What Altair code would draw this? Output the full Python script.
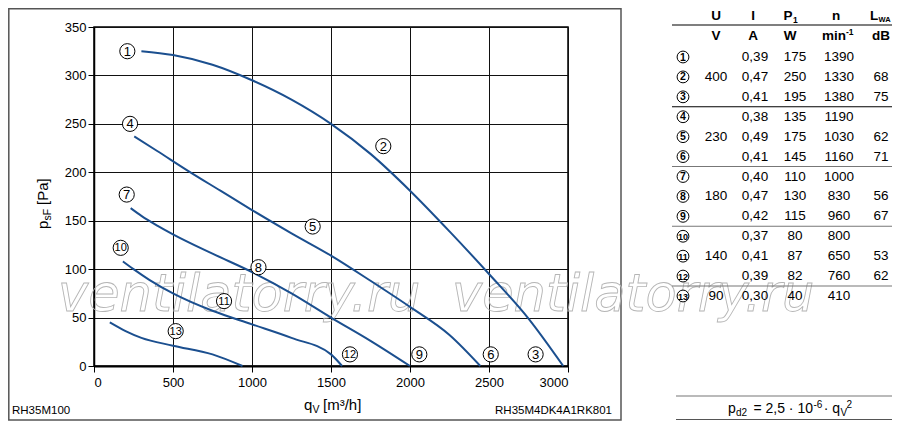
import altair as alt
import pandas as pd

FONT = "Liberation Sans"
BLUE = "#1b4f8f"
NB = "\u00a0"

# ---------------- curve data (q_V [m3/h], p_sF [Pa]) ----------------
q_400 = [300, 500, 750, 1000, 1250, 1500, 1750, 2000, 2250, 2500, 2750, 2970]
p_400 = [325, 321, 311, 295, 275, 250, 219, 181, 139, 95, 49, 0]
q_230 = [255, 400, 600, 800, 1000, 1250, 1500, 1750, 2000, 2250, 2445]
p_230 = [237, 222, 201, 181, 161, 137, 114, 88, 61, 32, 0]
q_180 = [232, 300, 400, 500, 750, 1000, 1250, 1500, 1750, 2000]
p_180 = [163, 155, 145, 136, 116, 97, 75, 50, 26, 0]
q_140 = [183, 250, 350, 500, 750, 1000, 1250, 1500, 1570]
p_140 = [108, 100, 89, 75, 57, 43, 29, 12, 0]
q_90 = [100, 200, 300, 500, 750, 940]
p_90 = [45, 36, 29, 21, 12, 0]

# curve label markers
lbl_id = [1, 2, 3, 4, 5, 6, 7, 8, 9, 10, 11, 12, 13]
lbl_q = [211, 1831, 2795, 228, 1384, 2511, 207, 1041, 2059, 169, 823, 1620, 517]
lbl_p = [325, 227, 12, 250, 144, 12, 177, 102, 12, 122, 67, 12, 36]

# axis ticks
x_ticks = [0, 500, 1000, 1500, 2000, 2500, 3000]
y_ticks = [0, 50, 100, 150, 200, 250, 300, 350]

# ---------------- table data ----------------
tbl_id = [1, 2, 3, 4, 5, 6, 7, 8, 9, 10, 11, 12, 13]
tbl_U = ["", "400", "", "", "230", "", "", "180", "", "", "140", "", "90"]
tbl_I = ["0,39", "0,47", "0,41", "0,38", "0,49", "0,41", "0,40", "0,47", "0,42",
         "0,37", "0,41", "0,39", "0,30"]
tbl_P = ["175", "250", "195", "135", "175", "145", "110", "130", "115", "80", "87", "82", "40"]
tbl_n = ["1390", "1330", "1380", "1190", "1030", "1160", "1000", "830", "960",
         "800", "650", "760", "410"]
tbl_L = ["", "68", "75", "", "62", "71", "", "56", "67", "", "53", "62", ""]

# ---------------- layout constants (page px) ----------------
X0, Y0 = 94, 27          # plot origin on page
PW, PH = 474, 339        # plot size
TOT_W, TOT_H = 884, 413  # svg size (page minus 8px margins)
RIGHT = 8 + TOT_W        # right edge on page
BOTTOM = 8 + TOT_H

ONE = pd.DataFrame({"k": [1]})


def txt(px, py, s, size=13, align="left", baseline="alphabetic", weight="normal",
        angle=0, color="black", font=FONT, **kw):
    return alt.Chart(ONE).mark_text(
        text=s, fontSize=size, font=font, align=align, baseline=baseline,
        fontWeight=weight, angle=angle, color=color, **kw
    ).encode(x=alt.value(px - X0), y=alt.value(py - Y0))


def hline(x1, x2, py, color="black", width=1.0):
    return alt.Chart(ONE).mark_rule(color=color, strokeWidth=width).encode(
        x=alt.value(x1 - X0), x2=alt.value(x2 - X0), y=alt.value(py - Y0))


# ---------------- build data frames ----------------
frames = []
for name, qs, ps in [("400", q_400, p_400), ("230", q_230, p_230), ("180", q_180, p_180),
                     ("140", q_140, p_140), ("90", q_90, p_90)]:
    frames.append(pd.DataFrame({"curve": name, "q": qs, "p": ps}))
curves_df = pd.concat(frames, ignore_index=True)
labels_df = pd.DataFrame({"id": lbl_id, "q": lbl_q, "p": lbl_p})
table_df = pd.DataFrame({"row": list(range(13)), "id": tbl_id, "U": tbl_U, "I": tbl_I,
                         "P": tbl_P, "n": tbl_n, "L": tbl_L})

xs = alt.Scale(domain=[0, 3000], nice=False, zero=False)
ys = alt.Scale(domain=[0, 350], nice=False, zero=False)
x_axis = alt.Axis(values=x_ticks, title=None, grid=True, tickSize=6, labelPadding=4,
                  domainWidth=2, format="d")
y_axis = alt.Axis(values=y_ticks, title=None, grid=True, tickSize=6, labelPadding=2,
                  domainWidth=1.5, format="d")

# outer frame of the diagram panel
box = alt.Chart(ONE).mark_rect(fillOpacity=0, stroke="#555555", strokeWidth=1.5).encode(
    x=alt.value(8.8 - X0), x2=alt.value(621 - X0), y=alt.value(8.8 - Y0),
    y2=alt.value(BOTTOM - 1 - Y0))

# watermark
WM = dict(size=51, font="DejaVu Sans", fontStyle="italic", fillOpacity=0,
          stroke="#b5b5b5", strokeWidth=0.9)
wm = [txt(58, 311, "ventilatorry.ru", **WM), txt(452, 311, "ventilatorry.ru", **WM)]

curves = alt.Chart(curves_df).mark_line(color=BLUE, strokeWidth=2, interpolate="monotone").encode(
    x=alt.X("q:Q", scale=xs, axis=x_axis),
    y=alt.Y("p:Q", scale=ys, axis=y_axis),
    detail="curve:N",
)

circles = alt.Chart(labels_df).mark_circle(size=230, fill="white", stroke="black",
                                           strokeWidth=1, opacity=1).encode(
    x=alt.X("q:Q", scale=xs), y=alt.Y("p:Q", scale=ys))
circ_txt = alt.Chart(labels_df).mark_text(font=FONT, baseline="middle", align="center",
                                          color="black", dy=0.5).encode(
    x=alt.X("q:Q", scale=xs), y=alt.Y("p:Q", scale=ys), text="id:N",
    size=alt.condition("datum.id >= 10", alt.value(11), alt.value(13)))

annot = []
# y axis title (rotated): p_sF [Pa]
annot.append(txt(48, 229, "p", size=15, angle=270))
annot.append(txt(51, 220.5, "sF", size=10.5, angle=270))
annot.append(txt(48, 205, "[Pa]", size=15, angle=270))
# x axis title: q_V [m³/h]
annot.append(txt(304, 410, "q", size=15))
annot.append(txt(312.5, 413, "V", size=10.5))
annot.append(txt(323, 410, "[m³/h]", size=15))
# footer ids
annot.append(txt(12, 414, "RH35M100", size=11.5))
annot.append(txt(612, 414, "RH35M4DK4A1RK801", size=11.5, align="right"))

plot = alt.layer(box, *wm, curves, circles, circ_txt, *annot)

# ---------------- table ----------------
ROW0, ROW12 = 57, 296
ts = alt.Scale(domain=[0, 12], range=[ROW0 - Y0, ROW12 - Y0], nice=False, zero=False)
ty = alt.Y("row:Q", scale=ts, axis=None)

tcirc = alt.Chart(table_df).mark_circle(size=140, fill="white", stroke="black",
                                        strokeWidth=1, opacity=1).encode(
    x=alt.value(683 - X0), y=ty)
tcirc_txt = alt.Chart(table_df).mark_text(font=FONT, baseline="middle", align="center",
                                          fontWeight="bold", color="black", dy=0.5).encode(
    x=alt.value(683 - X0), y=ty, text="id:N",
    size=alt.condition("datum.id >= 10", alt.value(9), alt.value(10.5)))
tcols = []
for col, cx in [("U", 716), ("I", 755), ("P", 795), ("n", 839), ("L", 881)]:
    tcols.append(alt.Chart(table_df).mark_text(font=FONT, fontSize=13.5, baseline="middle",
                                               align="center", color="black").encode(
        x=alt.value(cx - X0), y=ty, text=f"{col}:N"))

theads = []
H1, H2 = 16, 36
for s, cx in [("U", 716), ("I", 753), ("n", 836)]:
    theads.append(txt(cx, H1, s, size=13.5, align="center", baseline="middle", weight="bold"))
theads.append(txt(788, H1, "P", size=13.5, align="center", baseline="middle", weight="bold"))
theads.append(txt(793, H1 + 4, "1", size=8.5, align="left", baseline="middle", weight="bold"))
theads.append(txt(874, H1, "L", size=13.5, align="center", baseline="middle", weight="bold"))
theads.append(txt(878.5, H1 + 4, "WA", size=7.5, align="left", baseline="middle", weight="bold"))
for s, cx in [("V", 716), ("A", 753), ("W", 790), ("dB", 881)]:
    theads.append(txt(cx, H2, s, size=13.5, align="center", baseline="middle", weight="bold"))
theads.append(txt(834, H2, "min", size=13.5, align="center", baseline="middle", weight="bold"))
theads.append(txt(846, H2 - 4, "-1", size=8.5, align="left", baseline="middle", weight="bold"))

tlines = [hline(672, RIGHT, 25, "black", 1.2)]
pitch = (ROW12 - ROW0) / 12.0
for k, colr in [(3, "black"), (6, "#777777"), (9, "#777777"), (12, "#777777")]:
    tlines.append(hline(672, RIGHT, ROW0 + pitch * (k - 0.5), colr, 1.1))
tlines.append(hline(676, RIGHT, 396, "#777777", 1.2))
tlines.append(hline(676, RIGHT, BOTTOM - 1.5, "#555555", 1.2))

# formula p_d2 = 2,5 · 10^-6 · q_V^2
FB = 413
formula = [
    txt(728, FB, "p", size=14),
    txt(736, FB + 3, "d2", size=10),
    txt(813, FB, "=" + NB + "2,5" + NB + "·" + NB + "10", size=14, align="right"),
    txt(813.5, FB - 5, "-6", size=10),
    txt(840, FB, "·" + NB + "q", size=14, align="right"),
    txt(840.5, FB + 3, "V", size=10),
    txt(846.5, FB - 5, "2", size=10),
]

table = alt.layer(*tlines, tcirc, tcirc_txt, *tcols, *theads, *formula)

chart = alt.layer(plot, table).resolve_scale(y="independent").properties(
    width=PW, height=PH,
    autosize=alt.AutoSizeParams(type="none"),
    padding={"left": X0 - 8, "top": Y0 - 8, "right": TOT_W - (X0 - 8) - PW,
             "bottom": TOT_H - (Y0 - 8) - PH},
).configure_view(stroke="black", strokeWidth=1.5).configure_axis(
    labelFont=FONT, labelFontSize=13, labelColor="black", tickColor="black",
    gridColor="#111111", domainColor="black", gridWidth=1, tickWidth=1,
)

chart.save("out.html", embed_options={"renderer": "svg", "actions": False})
